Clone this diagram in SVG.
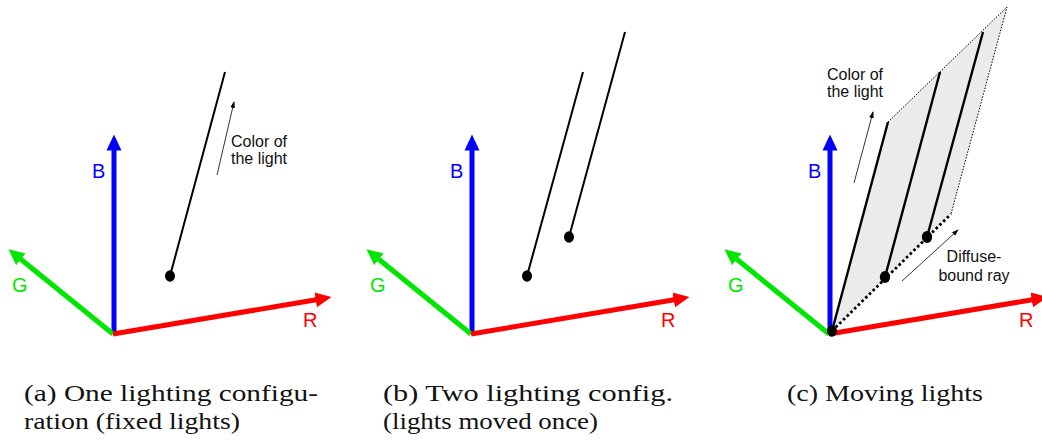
<svg xmlns="http://www.w3.org/2000/svg" width="1042" height="440" viewBox="0 0 1042 440">
<style>
  .ax { stroke-width: 5; fill: none; }
  .lab { font-family: "Liberation Sans", Arial, sans-serif; font-size: 20px; }
  .note { font-family: "Liberation Sans", Arial, sans-serif; font-size: 16px; fill: #111; text-anchor: middle; }
  .light { stroke: #000; stroke-width: 2; fill: none; }
  .lightc { stroke: #000; stroke-width: 2.4; fill: none; }
  .thin { stroke: #000; stroke-width: 0.8; fill: none; marker-end: url(#sm); }
  .cap { font-family: "Liberation Serif", "Times New Roman", serif; font-size: 24px; fill: #111; }
  .dot { fill: #000; }
</style>
<defs>
  <marker id="hb" viewBox="0 -8 16 16" markerWidth="16" markerHeight="16" markerUnits="userSpaceOnUse" refX="0.5" refY="0" orient="auto"><path d="M0,-7.5 L16,0 L0,7.5 z" fill="#0000ff"/></marker>
  <marker id="hg" viewBox="0 -8 16 16" markerWidth="16" markerHeight="16" markerUnits="userSpaceOnUse" refX="0.5" refY="0" orient="auto"><path d="M0,-7.5 L16,0 L0,7.5 z" fill="#00e600"/></marker>
  <marker id="hr" viewBox="0 -8 16 16" markerWidth="16" markerHeight="16" markerUnits="userSpaceOnUse" refX="0.5" refY="0" orient="auto"><path d="M0,-7.5 L16,0 L0,7.5 z" fill="#ff0000"/></marker>
  <marker id="sm" viewBox="0 -3 7 6" markerWidth="7" markerHeight="6" markerUnits="userSpaceOnUse" refX="6" refY="0" orient="auto"><path d="M0,-2.3 L7,0 L0,2.3 z" fill="#000"/></marker>
  <g id="axes">
    <line class="ax" x1="114" y1="332" x2="114" y2="150" stroke="#0000ff" marker-end="url(#hb)"/>
    <line class="ax" x1="113" y1="334" x2="20.5" y2="259" stroke="#00e600" marker-end="url(#hg)"/>
    <line class="ax" x1="113" y1="334" x2="316.2" y2="299.7" stroke="#ff0000" marker-end="url(#hr)"/>
    <text class="lab" x="92" y="178" fill="#0000ff">B</text>
    <text class="lab" x="12" y="292" fill="#00e600">G</text>
    <text class="lab" x="303" y="327" fill="#ff0000">R</text>
  </g>
</defs>

<g id="panel-a">
  <use href="#axes"/>
  <g id="light-a">
    <line class="light" x1="170" y1="276" x2="225" y2="72"/>
    <ellipse class="dot" cx="170" cy="276" rx="5" ry="5.8"/>
  </g>
  <g id="color-note-a">
    <line class="thin" x1="217" y1="175" x2="234" y2="102"/>
    <text class="note" x="259" y="147">Color of</text>
    <text class="note" x="259" y="164">the light</text>
  </g>
  <text class="cap" x="24" y="401" textLength="294" lengthAdjust="spacingAndGlyphs">(a) One lighting configu-</text>
  <text class="cap" x="24" y="429" textLength="216" lengthAdjust="spacingAndGlyphs">ration (fixed lights)</text>
</g>

<g id="panel-b">
  <use href="#axes" transform="translate(358,0)"/>
  <g id="light-b1">
    <line class="light" x1="527" y1="276" x2="583" y2="72"/>
    <ellipse class="dot" cx="527" cy="276" rx="5" ry="5.8"/>
  </g>
  <g id="light-b2">
    <line class="light" x1="569" y1="237" x2="625" y2="32"/>
    <ellipse class="dot" cx="569" cy="237" rx="5" ry="5.8"/>
  </g>
  <text class="cap" x="383" y="401" textLength="290" lengthAdjust="spacingAndGlyphs">(b) Two lighting config.</text>
  <text class="cap" x="383" y="429" textLength="215" lengthAdjust="spacingAndGlyphs">(lights moved once)</text>
</g>

<g id="panel-c">
  <use href="#axes" transform="translate(716,0)"/>
  <g id="plane-c">
    <polygon points="832,331 888,122 1007,7 951,214" fill="#ebebeb" stroke="none"/>
    <polyline points="888,122 1007,7 951,214" fill="none" stroke="#000" stroke-width="1" stroke-dasharray="1.5 1.5"/>
  </g>
  <g id="connectors">
    <line x1="832" y1="331" x2="951" y2="214" stroke="#000" stroke-width="2.8" stroke-dasharray="2.6 2.6"/>
  </g>
  <g id="light-c1">
    <line class="lightc" x1="832" y1="331" x2="888" y2="122"/>
    <ellipse class="dot" cx="832" cy="331" rx="5" ry="5.8"/>
  </g>
  <g id="light-c2">
    <line class="lightc" x1="885" y1="277" x2="940" y2="72"/>
    <ellipse class="dot" cx="885" cy="277" rx="5.2" ry="6"/>
  </g>
  <g id="light-c3">
    <line class="lightc" x1="927" y1="237" x2="983" y2="32"/>
    <ellipse class="dot" cx="927" cy="237" rx="5.2" ry="6"/>
  </g>
  <g id="color-note-c">
    <line class="thin" x1="854" y1="183" x2="873" y2="112"/>
    <text class="note" x="855" y="80">Color of</text>
    <text class="note" x="855" y="97">the light</text>
  </g>
  <g id="diffuse-note">
    <line class="thin" x1="902" y1="281" x2="958" y2="230"/>
    <text class="note" x="974" y="262">Diffuse-</text>
    <text class="note" x="974" y="281">bound ray</text>
  </g>
  <text class="cap" x="787" y="401" textLength="196" lengthAdjust="spacingAndGlyphs">(c) Moving lights</text>
</g>
</svg>
